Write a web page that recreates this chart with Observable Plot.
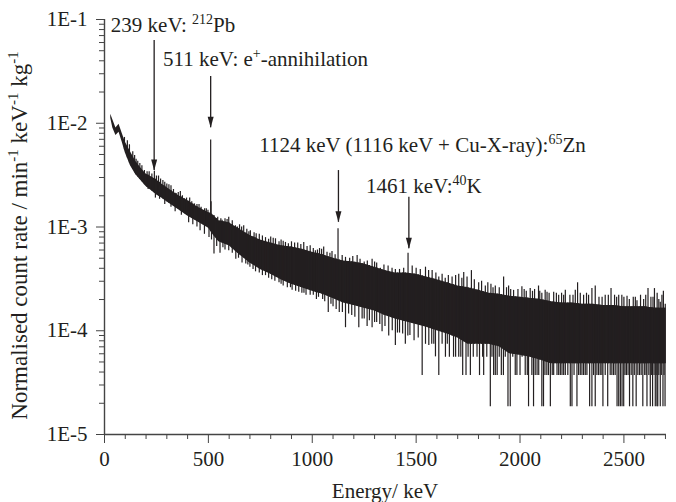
<!DOCTYPE html>
<html>
<head>
<meta charset="utf-8">
<script src="https://cdn.jsdelivr.net/npm/d3@7"></script>
<script src="https://cdn.jsdelivr.net/npm/@observablehq/plot@0.6"></script>
<style>
  html, body { margin: 0; padding: 0; background: #fff; }
  #chart svg { display: block; }
</style>
</head>
<body>
<div id="chart"></div>
<script>
// ---------- data ----------
// Solid body of the spectrum: energy (keV), upper and lower edge (min^-1 keV^-1 kg^-1)
const envE  = [30,40,55,70,85,100,125,150,175,200,225,250,275,300,350,400,450,500,525,550,600,650,700,750,800,850,900,950,1000,1050,1100,1150,1200,1250,1300,1350,1400,1450,1500,1550,1600,1650,1700,1750,1800,1850,1900,1950,2000,2050,2100,2150,2200,2250,2300,2350,2400,2450,2500,2550,2600,2650,2700];
const envHi = [1.22e-2,1.08e-2,9.0e-3,9.8e-3,8.0e-3,6.6e-3,5.3e-3,4.3e-3,3.7e-3,3.25e-3,3.05e-3,2.85e-3,2.6e-3,2.4e-3,2.05e-3,1.8e-3,1.55e-3,1.38e-3,1.3e-3,1.15e-3,1.1e-3,9.5e-4,8.3e-4,7.5e-4,7.0e-4,6.6e-4,6.4e-4,6.1e-4,5.7e-4,5.4e-4,5.0e-4,4.7e-4,4.6e-4,4.4e-4,4.1e-4,3.8e-4,3.6e-4,3.6e-4,3.5e-4,3.3e-4,3.1e-4,2.9e-4,2.7e-4,2.6e-4,2.45e-4,2.3e-4,2.25e-4,2.15e-4,2.1e-4,2.05e-4,2.0e-4,1.9e-4,1.85e-4,1.85e-4,1.8e-4,1.8e-4,1.75e-4,1.75e-4,1.7e-4,1.7e-4,1.7e-4,1.65e-4,1.65e-4];
const envLo = [1.12e-2,9.0e-3,7.6e-3,8.2e-3,6.6e-3,5.2e-3,3.9e-3,3.2e-3,2.8e-3,2.45e-3,2.25e-3,2.05e-3,1.9e-3,1.75e-3,1.5e-3,1.28e-3,1.12e-3,9.8e-4,8.3e-4,7.2e-4,6.6e-4,5.4e-4,4.5e-4,3.9e-4,3.5e-4,3.1e-4,2.8e-4,2.6e-4,2.4e-4,2.25e-4,2.05e-4,1.85e-4,1.75e-4,1.65e-4,1.55e-4,1.4e-4,1.3e-4,1.22e-4,1.15e-4,1.08e-4,1.0e-4,9.3e-5,8.5e-5,7.4e-5,7.4e-5,7.4e-5,7.0e-5,6.0e-5,5.8e-5,5.55e-5,5.2e-5,4.8e-5,4.8e-5,4.8e-5,4.8e-5,4.8e-5,4.8e-5,4.8e-5,4.8e-5,4.8e-5,4.8e-5,4.8e-5,4.8e-5];

// Upward noise spikes: energy and tip value
const upE   = [96,110,136,152,170,192,215,240,260,281,300,320,345,365,385,410,433,455,473,490,513,545,566,580,598,615,630,650,670,685,702,720,745,775,800,823,850,871,900,930,959,990,1015,1035,1055,1071,1095,1144,1180,1216,1250,1288,1310,1328,1384,1420,1481,1500,1545,1577,1609,1640,1673,1690,1705,1729,1745,1766,1780,1801,1833,1860,1881,1900,1921,1945,1969,1990,2009,2030,2049,2070,2089,2105,2121,2140,2162,2186,2200,2218,2240,2266,2277,2290,2306,2330,2346,2362,2380,2410,2438,2455,2475,2500,2526,2545,2563,2580,2595,2616,2630,2647,2660,2675,2690,2699,
  120,145,160,180,205,228,250,270,290,310,332,355,375,395,420,445,465,482,498,560,590,640,660,695,730,760,790,812,840,860,885,915,945,975,1005,1025,1045,1085,1110,1160,1195,1230,1265,1300,1345,1365,1400,1440,1520,1560,1595,1625,1655,1720,1815,1845,1870,1935,1955,2020,2060,2095,2130,2175,2210,2255,2320,2395,2425,2465,2490,2515,2555,2605,2640,2668,2683];
const upTip = [7.3e-3,6.8e-3,5.3e-3,4.5e-3,4.1e-3,3.5e-3,3.4e-3,3.45e-3,3.1e-3,2.8e-3,2.6e-3,2.5e-3,2.1e-3,2.2e-3,1.87e-3,1.9e-3,1.67e-3,1.65e-3,1.44e-3,1.5e-3,1.75e-3,1.24e-3,1.16e-3,1.2e-3,1.24e-3,1.15e-3,1.03e-3,1.05e-3,1.03e-3,9.5e-4,9.2e-4,8.8e-4,8.5e-4,7.9e-4,8.0e-4,7.7e-4,7.5e-4,7.1e-4,7.2e-4,7.0e-4,7.1e-4,6.6e-4,5.9e-4,6.2e-4,6.4e-4,5.7e-4,5.8e-4,5.3e-4,5.0e-4,5.3e-4,4.6e-4,4.9e-4,4.5e-4,4.0e-4,4.0e-4,3.9e-4,4.2e-4,4.0e-4,4.1e-4,3.8e-4,3.3e-4,3.2e-4,3.3e-4,3.4e-4,3.5e-4,3.65e-4,3.3e-4,3.8e-4,3.1e-4,2.9e-4,2.7e-4,2.8e-4,2.7e-4,2.6e-4,3.3e-4,2.7e-4,2.45e-4,2.5e-4,2.65e-4,2.4e-4,2.55e-4,2.5e-4,2.7e-4,2.3e-4,2.45e-4,2.3e-4,2.35e-4,2.2e-4,2.3e-4,2.45e-4,2.2e-4,2.45e-4,2.9e-4,2.3e-4,2.2e-4,2.2e-4,2.55e-4,2.7e-4,2.1e-4,2.2e-4,2.55e-4,2.2e-4,2.2e-4,2.1e-4,2.0e-4,2.1e-4,1.95e-4,2.2e-4,2.0e-4,2.55e-4,2.1e-4,2.55e-4,2.3e-4,1.88e-4,2.4e-4,1.8e-4,
  6.2e-3,4.9e-3,4.3e-3,3.9e-3,3.4e-3,3.25e-3,3.1e-3,2.9e-3,2.7e-3,2.55e-3,2.3e-3,2.15e-3,2.0e-3,1.9e-3,1.75e-3,1.65e-3,1.55e-3,1.5e-3,1.45e-3,1.2e-3,1.18e-3,1.0e-3,1.0e-3,9.0e-4,8.6e-4,8.2e-4,7.6e-4,7.8e-4,7.2e-4,7.3e-4,6.9e-4,7.0e-4,6.8e-4,6.5e-4,6.2e-4,6.0e-4,6.1e-4,5.6e-4,5.4e-4,5.1e-4,5.2e-4,4.9e-4,4.7e-4,4.6e-4,4.3e-4,4.2e-4,3.9e-4,4.0e-4,3.9e-4,3.8e-4,3.6e-4,3.5e-4,3.4e-4,3.2e-4,3.0e-4,2.9e-4,2.6e-4,2.6e-4,2.5e-4,2.5e-4,2.4e-4,2.4e-4,2.35e-4,2.3e-4,2.2e-4,2.2e-4,2.3e-4,2.1e-4,2.2e-4,2.1e-4,2.2e-4,2.15e-4,2.1e-4,2.2e-4,2.1e-4,2.0e-4,2.2e-4];

// Downward noise spikes: energy and lowest value
const downE   = [245,320,405,460,481,503,527,540,556,580,598,615,632,662,680,700,727,745,760,790,820,840,860,880,903,935,950,970,1005,1030,1050,1077,1100,1130,1160,1190,1224,1250,1264,1288,1310,1336,1368,1400,1420,1448,1470,1490,1529,1561,1575,1593,1609,1625,1641,1660,1680,1705,1724,1740,1761,1793,1820,1825,1840,1857,1873,1881,1900,1910,1929,1942,1953,1977,2000,2010,2025,2041,2057,2065,2073,2090,2105,2120,2129,2146,2162,2178,2194,2210,2230,2242,2250,2260,2274,2290,2306,2314,2322,2335,2346,2362,2370,2386,2399,2410,2422,2434,2450,2467,2475,2483,2491,2499,2512,2520,2527,2543,2550,2559,2575,2591,2600,2611,2620,2627,2638,2645,2651,2659,2668,2675,2680,2688,2698,
  210,265,290,340,370,425,445,515,570,645,690,715,775,805,850,895,920,960,990,1020,1060,1090,1115,1145,1175,1205,1240,1275,1300,1325,1350,1385,1410,1435,1460,1510,1545,1585,1650,1690,1715,1750,1775,1805,1865,1890,1920,1965,1985,2035,2082,2113,2137,2155,2186,2202,2218,2282,2298,2354,2378,2394,2442,2458,2505,2535,2567,2583,2607,2632,2655,2663,2693];
const downLow = [1.9e-3,1.55e-3,1.1e-3,9.2e-4,8.5e-4,7.9e-4,5.5e-4,6.5e-4,5.6e-4,6.0e-4,5.9e-4,5.6e-4,4.9e-4,4.5e-4,4.4e-4,4.1e-4,3.7e-4,3.6e-4,3.4e-4,3.2e-4,3.0e-4,2.9e-4,2.7e-4,2.6e-4,2.45e-4,2.35e-4,2.3e-4,2.2e-4,2.2e-4,2.1e-4,2.0e-4,1.5e-4,1.7e-4,1.5e-4,1.07e-4,1.4e-4,1.07e-4,1.3e-4,1.1e-4,1.07e-4,1.2e-4,9.8e-5,8.9e-5,7.2e-5,9.5e-5,7.4e-5,9.0e-5,8.0e-5,3.7e-5,7.2e-5,7.4e-5,5.6e-5,3.7e-5,7.4e-5,5.55e-5,5.55e-5,5.55e-5,5.55e-5,3.7e-5,3.7e-5,3.7e-5,5.55e-5,5.55e-5,3.7e-5,5.55e-5,1.85e-5,3.7e-5,3.7e-5,5.55e-5,3.7e-5,5.55e-5,1.85e-5,1.85e-5,3.7e-5,3.7e-5,5.55e-5,3.7e-5,1.85e-5,3.7e-5,1.85e-5,3.7e-5,3.7e-5,1.85e-5,3.7e-5,3.7e-5,1.85e-5,3.7e-5,3.7e-5,3.7e-5,3.7e-5,3.7e-5,1.85e-5,1.85e-5,3.7e-5,1.85e-5,3.7e-5,3.7e-5,3.7e-5,3.7e-5,1.85e-5,1.85e-5,1.85e-5,3.7e-5,3.7e-5,1.85e-5,3.7e-5,1.85e-5,3.7e-5,3.7e-5,1.85e-5,1.85e-5,1.85e-5,1.85e-5,1.85e-5,3.7e-5,3.7e-5,1.85e-5,1.85e-5,3.7e-5,1.85e-5,3.7e-5,1.85e-5,3.7e-5,1.85e-5,3.7e-5,1.85e-5,1.85e-5,3.7e-5,1.85e-5,1.85e-5,3.7e-5,1.85e-5,3.7e-5,1.85e-5,1.85e-5,
  2.3e-3,1.85e-3,1.65e-3,1.4e-3,1.3e-3,1.05e-3,1.0e-3,7.5e-4,6.3e-4,5.0e-4,4.3e-4,3.9e-4,3.4e-4,3.1e-4,2.8e-4,2.6e-4,2.4e-4,2.3e-4,2.2e-4,2.0e-4,1.9e-4,1.8e-4,1.6e-4,1.5e-4,1.45e-4,1.35e-4,1.3e-4,1.25e-4,1.2e-4,1.15e-4,1.1e-4,1.0e-4,9.5e-5,9.3e-5,8.9e-5,8.5e-5,7.4e-5,7.4e-5,7.4e-5,5.55e-5,5.55e-5,5.55e-5,5.55e-5,3.7e-5,5.55e-5,3.7e-5,3.7e-5,5.55e-5,3.7e-5,3.7e-5,3.7e-5,1.85e-5,3.7e-5,3.7e-5,3.7e-5,3.7e-5,3.7e-5,3.7e-5,3.7e-5,3.7e-5,3.7e-5,3.7e-5,3.7e-5,3.7e-5,3.7e-5,3.7e-5,3.7e-5,3.7e-5,3.7e-5,3.7e-5,3.7e-5,1.85e-5,3.7e-5];

// Photopeaks (thin lines above the continuum)
const peakE   = [511, 1124, 1461];
const peakTop = [6.9e-3, 9.6e-4, 5.6e-4];

// Annotations
const annoMain = ["239 keV: ", "511 keV: e", "1124 keV (1116 keV + Cu-X-ray):", "1461 keV:"];
const annoSup  = ["212", "+", "65", "40"];
const annoTail = ["Pb", "-annihilation", "Zn", "K"];
const annoE    = [33, 284, 747, 1261];
const annoV    = [7.55e-2, 3.52e-2, 5.26e-3, 2.09e-3];

// Arrows (energy, start value, tip value)
const arrowE    = [239, 511, 1126, 1465];
const arrowFrom = [6.28e-2, 2.83e-2, 3.5e-3, 1.94e-3];
const arrowTo   = [3.5e-3, 9.04e-3, 1.11e-3, 6.16e-4];

// Axes
const xMajor = [0, 500, 1000, 1500, 2000, 2500];
const xMinor = [100,200,300,400,600,700,800,900,1100,1200,1300,1400,1600,1700,1800,1900,2100,2200,2300,2400,2600,2700];
const yMajor = [1e-5, 1e-4, 1e-3, 1e-2, 1e-1];
const yMajorLabels = ["1E-5", "1E-4", "1E-3", "1E-2", "1E-1"];
const yMinorMult = [2,3,4,5,6,7,8,9];
const xTitle = "Energy/ keV";
const yTitleParts = [["Normalised count rate / min", false], ["-1", true], [" keV", false], ["-1", true], [" kg", false], ["-1", true]];

// ---------- build tables ----------
const ink = "#231f20";
const env  = envE.map((E, i) => ({E, hi: envHi[i], lo: envLo[i]}));
// edge of the body at a given energy (used only as the far end of a noise spike)
const bis = d3.bisector(d => d.E).left;
function edge(E, key) {
  const i = Math.max(1, Math.min(env.length - 1, bis(env, E)));
  const a = env[i - 1], b = env[i];
  const t = Math.max(0, Math.min(1, (E - a.E) / (b.E - a.E)));
  return Math.exp(Math.log(a[key]) * (1 - t) + Math.log(b[key]) * t);
}
const ups  = upE.map((E, i) => ({E, tip: upTip[i], base: edge(E, "lo")}));
const downs = downE.map((E, i) => ({E, low: downLow[i], base: edge(E, "hi")}));
const peaks = peakE.map((E, i) => ({E, top: peakTop[i], base: edge(E, "lo")}));
const arrows = arrowE.map((E, i) => ({E, from: arrowFrom[i], to: arrowTo[i]}));
const yMinor = [];
for (const d of yMajor.slice(0, -1)) for (const m of yMinorMult) yMinor.push(d * m);

const arrowHead = {
  draw(ctx) { ctx.moveTo(0, 0); ctx.lineTo(-3, -11); ctx.lineTo(3, -11); ctx.closePath(); }
};

const FONT = "Liberation Serif";

const plot = Plot.plot({
  width: 676,
  height: 502,
  marginLeft: 104,
  marginRight: 10,
  marginTop: 19,
  marginBottom: 68,
  style: {fontSize: "21px", background: "#fff", color: ink, overflow: "visible"},
  x: {domain: [0, 2705], axis: null},
  y: {type: "log", domain: [1e-5, 1e-1], axis: null},
  marks: [
    Plot.areaY(env, {x: "E", y1: "lo", y2: "hi", fill: ink}),
    Plot.ruleX(ups, {x: "E", y1: "tip", y2: "base", stroke: ink, strokeWidth: 1.2}),
    Plot.ruleX(downs, {x: "E", y1: "low", y2: "base", stroke: ink, strokeWidth: 1.2}),
    Plot.ruleX(peaks, {x: "E", y1: "top", y2: "base", stroke: ink, strokeWidth: 1.2}),
    // arrows
    Plot.ruleX(arrows, {x: "E", y1: "from", y2: "to", stroke: ink, strokeWidth: 1.3}),
    Plot.dot(arrows, {x: "E", y: "to", symbol: arrowHead, fill: ink, stroke: "none"}),
    // axis lines
    Plot.ruleX([0], {y1: 1e-5, y2: 1e-1, stroke: "#444", strokeWidth: 1.4}),
    Plot.ruleY([1e-5], {x1: 0, x2: 2705, stroke: "#444", strokeWidth: 1.4}),
    // axes
    Plot.axisX(xMajor, {tickSize: 9, tickPadding: 8, tickFormat: d => String(d), label: null, stroke: "#444", fill: ink, fontSize: 21, fontFamily: FONT}),
    Plot.axisX(xMinor, {tickSize: 5, tickFormat: () => "", label: null, stroke: "#444"}),
    Plot.axisY(yMajor, {tickSize: 8, tickPadding: 9, tickFormat: d => yMajorLabels[yMajor.indexOf(d)], label: null, stroke: "#444", fill: ink, fontSize: 21, fontFamily: FONT}),
    Plot.axisY(yMinor, {tickSize: 5, tickFormat: () => "", label: null, stroke: "#444"})
  ]
});

document.getElementById("chart").appendChild(plot);

// ---------- text with superscripts, positioned through the plot's scales ----------
const sx = plot.scale("x"), sy = plot.scale("y");
const svg = d3.select(plot);
const g = svg.append("g")
  .attr("fill", ink)
  .attr("font-size", 21)
  .attr("text-anchor", "start");

annoMain.forEach((t, i) => {
  const txt = g.append("text").attr("x", sx.apply(annoE[i])).attr("y", sy.apply(annoV[i]));
  txt.append("tspan").text(t);
  txt.append("tspan").attr("font-size", 14).attr("dy", -8).text(annoSup[i]);
  txt.append("tspan").attr("dy", 8).text(annoTail[i]);
});

g.append("text")
  .attr("x", (sx.apply(0) + sx.apply(2705)) / 2)
  .attr("y", 498)
  .attr("text-anchor", "middle")
  .text(xTitle);

const yt = g.append("text")
  .attr("transform", `translate(27,${(sy.apply(1e-5) + sy.apply(1e-1)) / 2 + 9}) rotate(-90)`)
  .attr("text-anchor", "middle")
  .attr("font-size", 23);
let shifted = false;
for (const [t, sup] of yTitleParts) {
  const ts = yt.append("tspan").text(t);
  if (sup && !shifted) { ts.attr("font-size", 15).attr("dy", -9); shifted = true; }
  else if (!sup && shifted) { ts.attr("dy", 9); shifted = false; }
  else if (sup) ts.attr("font-size", 15);
}

// force the serif face on every text element
plot.setAttribute("font-family", FONT);
plot.querySelectorAll("text, tspan, g").forEach(el => el.setAttribute("font-family", FONT));
</script>
</body>
</html>
